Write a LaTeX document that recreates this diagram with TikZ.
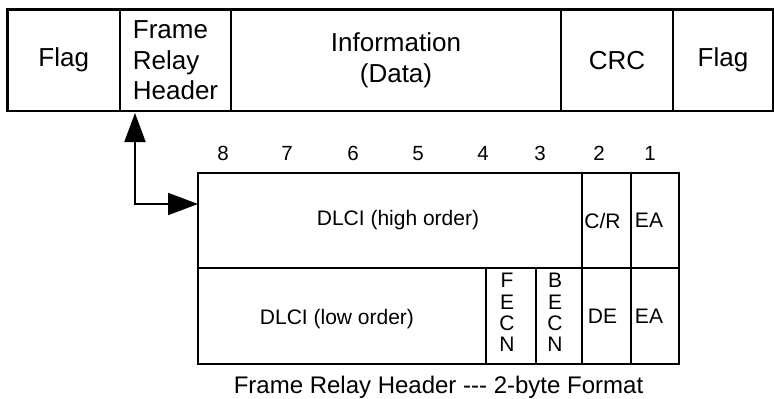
\documentclass[tikz,border=0pt]{standalone}
\usepackage{fontspec}
\setmainfont{Liberation Sans}
\usetikzlibrary{arrows.meta,calc}
\begin{document}
\begin{tikzpicture}[x=1pt,y=-1pt,
  cell/.style={draw, line width=2.3pt, inner sep=0pt, outer sep=0pt, anchor=north west},
  big/.style={font=\fontsize{26}{30.5}\selectfont, align=center},
  lbl/.style={font=\fontsize{21}{21.3}\selectfont, inner sep=0pt, align=center},
  bit/.style={font=\fontsize{20.5}{24}\selectfont, inner sep=0pt, anchor=base},
  capt/.style={font=\fontsize{24}{28}\selectfont, inner sep=0pt},
  conn/.style={line width=2pt, {Triangle[length=29pt,width=21pt]}-{Triangle[length=30pt,width=22pt]}}]
\useasboundingbox (0,0) rectangle (774,399);
\fill[white] (0,0) rectangle (774,399);

% frame row
\node[cell, big, minimum width=112.5pt, minimum height=101.5pt] (flagA) at (7.5,9.5) {Flag};
\node[cell, big, align=left, minimum width=111pt, minimum height=101.5pt] (frh) at (120,9.5) {Frame\\Relay\\Header};
\node[cell, big, minimum width=330pt, minimum height=101.5pt] (info) at (231,9.5) {Information\\(Data)};
\node[cell, big, minimum width=112pt, minimum height=101.5pt] (crc) at (561,9.5) {CRC};
\node[cell, big, minimum width=100pt, minimum height=101.5pt] (flagB) at (673,9.5) {Flag};

% bit numbers
\foreach \b/\xx in {8/223,7/287,6/353,5/418,4/483,3/540,2/599,1/650}
  \node[bit] (bit\b) at (\xx,160) {\b};

% header octets
\node[cell, minimum width=384pt, minimum height=95pt,
  label={[lbl,xshift=8pt]center:DLCI (high order)}] (hi) at (198,173) {};
\node[cell, minimum width=49pt, minimum height=95pt,
  label={[lbl,xshift=-4pt]center:C/R}] (cr) at (582,173) {};
\node[cell, minimum width=48pt, minimum height=95pt,
  label={[lbl,xshift=-6pt]center:EA}] (eaA) at (631,173) {};
\node[cell, minimum width=288pt, minimum height=96pt,
  label={[lbl,xshift=-5pt,yshift=-3pt]center:DLCI (low order)}] (lo) at (198,268) {};
\node[cell, minimum width=50pt, minimum height=96pt,
  label={[lbl,xshift=-4pt,yshift=3.5pt]center:F\\E\\C\\N}] (fecn) at (486,268) {};
\node[cell, minimum width=46pt, minimum height=96pt,
  label={[lbl,xshift=-4pt,yshift=3.5pt]center:B\\E\\C\\N}] (becn) at (536,268) {};
\node[cell, minimum width=49pt, minimum height=96pt,
  label={[lbl,xshift=-4pt]center:DE}] (de) at (582,268) {};
\node[cell, minimum width=48pt, minimum height=96pt,
  label={[lbl,xshift=-6pt]center:EA}] (eaB) at (631,268) {};

% connector
\coordinate (up) at ($(frh.south west)+(15,2)$);
\coordinate (bend) at ($(up |- 0,204)$);
\coordinate (into) at ($(hi.north west)+(0,31)$);
\draw[conn] (up) -- (bend) -- (into);

% caption
\node[capt] (caption) at (438.5,387) {Frame Relay Header -{}-{}- 2-byte Format};
\end{tikzpicture}
\end{document}
